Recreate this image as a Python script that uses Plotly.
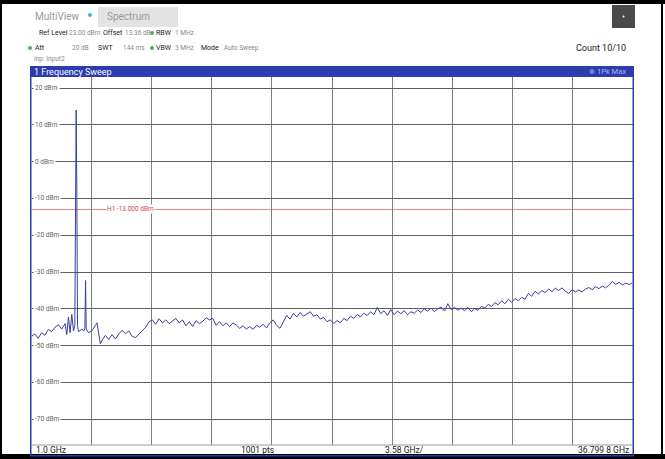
import plotly.graph_objects as go

# sweep data (GHz, dBm)
freq_ghz = [
    1.0, 1.2, 1.4, 1.6, 1.8, 2.0, 2.2, 2.4, 2.6, 2.8, 3.0, 3.1, 3.2, 3.3, 3.4, 3.5,
    3.58, 3.62, 3.66, 3.70, 3.74, 3.8, 4.0, 4.1, 4.18, 4.22, 4.26, 4.4, 4.6, 4.8, 4.9,
    5.0, 5.1, 5.2, 5.4, 5.6, 5.8, 6.0, 6.2, 6.4, 6.6, 6.8, 7.0, 7.2, 7.4, 7.6, 7.8,
    8.0, 8.2, 8.4, 8.6, 8.8, 9.0, 9.2, 9.4, 9.6, 9.8, 10.0, 10.2, 10.4, 10.6, 10.8,
    11.0, 11.2, 11.4, 11.6, 11.8, 12.0, 12.2, 12.4, 12.6, 12.8, 13.0, 13.2, 13.4,
    13.6, 13.8, 14.0, 14.2, 14.4, 14.6, 14.8, 15.0, 15.2, 15.4, 15.6, 15.8, 16.0,
    16.2, 16.4, 16.6, 16.8, 17.0, 17.2, 17.4, 17.6, 17.8, 18.0, 18.2, 18.4, 18.6,
    18.8, 19.0, 19.2, 19.4, 19.6, 19.8, 20.0, 20.2, 20.4, 20.6, 20.8, 21.0, 21.2,
    21.4, 21.6, 21.8, 22.0, 22.2, 22.4, 22.6, 22.8, 23.0, 23.2, 23.4, 23.6, 23.8,
    24.0, 24.2, 24.4, 24.6, 24.8, 25.0, 25.2, 25.4, 25.6, 25.8, 26.0, 26.2, 26.4,
    26.6, 26.8, 27.0, 27.2, 27.4, 27.6, 27.8, 28.0, 28.2, 28.4, 28.6, 28.8, 29.0,
    29.2, 29.4, 29.6, 29.8, 30.0, 30.2, 30.4, 30.6, 30.8, 31.0, 31.2, 31.4, 31.6,
    31.8, 32.0, 32.2, 32.4, 32.6, 32.8, 33.0, 33.2, 33.4, 33.6, 33.8, 34.0, 34.2,
    34.4, 34.6, 34.8, 35.0, 35.2, 35.4, 35.6, 35.8, 36.0, 36.2, 36.4, 36.6, 36.7998,
]
level_dbm = [
    -47.5, -46.8, -48.0, -46.5, -47.2, -45.6, -46.2, -45.0, -44.3, -45.5, -44.0, -47.0, -42.2, -46.5, -41.5, -46.0,
    -44.5, -8.0, 14.0, -8.0, -44.5, -46.2, -45.5, -46.0, -45.5, -32.3, -45.5, -46.5, -46.0, -44.5, -43.8,
    -46.5, -49.5, -48.5, -47.2, -48.3, -47.0, -48.2, -46.8, -45.8, -46.8, -46.0, -47.5, -47.8, -46.8, -46.0, -45.0,
    -43.5, -43.0, -44.2, -42.7, -43.8, -43.0, -44.0, -43.2, -42.6, -43.8, -43.0, -44.6, -43.5, -44.8, -43.2,
    -44.0, -43.4, -42.4, -43.0, -42.6, -44.5, -43.5, -44.6, -43.8, -44.8, -43.8, -44.4, -45.3,
    -44.6, -45.5, -44.8, -45.6, -44.5, -45.0, -44.2, -45.2, -43.8, -43.0, -44.5, -45.3, -43.6,
    -41.8, -42.8, -41.2, -42.2, -41.0, -42.0, -41.4, -40.8, -42.0, -41.6, -42.8, -42.3, -43.5,
    -43.0, -44.0, -43.2, -43.8, -42.6, -43.2, -42.0, -42.6, -41.5, -42.2, -41.2, -41.8, -40.8,
    -41.6, -39.6, -41.3, -40.5, -41.8, -40.2, -41.6, -40.6, -41.3, -40.5, -41.6, -40.8, -41.2,
    -40.3, -41.0, -40.0, -40.6, -39.8, -40.8, -40.0, -39.5, -40.6, -38.6, -40.2, -39.6, -40.4,
    -39.8, -40.5, -39.6, -40.8, -39.9, -40.4, -39.3, -39.8, -38.8, -39.4, -38.3, -38.9, -37.8,
    -38.6, -37.4, -38.2, -37.2, -37.8, -36.9, -37.4, -35.8, -36.6, -35.2, -36.0, -35.0, -35.6,
    -34.6, -35.3, -34.4, -35.0, -34.3, -35.2, -35.8, -34.8, -35.4, -34.9, -35.4, -34.6, -34.2,
    -34.8, -34.0, -34.5, -33.8, -34.3, -33.6, -32.6, -33.4, -32.8, -33.5, -33.0, -33.4, -32.9,
]

y_ticks = [20, 10, 0, -10, -20, -30, -40, -50, -60, -70]
y_labels = ["20 dBm", "10 dBm", "0 dBm", "-10 dBm", "-20 dBm", "-30 dBm",
            "-40 dBm", "-50 dBm", "-60 dBm", "-70 dBm"]
h1_level = -13.0

W, H = 665, 459
BLUE = "#2c3cae"
GRAY = "#8a8a8a"
DARK = "#222222"
FONT = "Roboto"


def px(x):
    return x / W


def py(y):
    return 1 - y / H


fig = go.Figure()
fig.add_trace(go.Scatter(
    x=freq_ghz, y=level_dbm, mode="lines",
    line=dict(color="#3a3f9e", width=1), hoverinfo="skip"
))

shapes = []
annots = []


def text(x, y, s, size=8, color=DARK, anchor="left"):
    annots.append(dict(
        x=px(x), y=py(y), xref="paper", yref="paper", text=s,
        showarrow=False, xanchor=anchor, yanchor="middle",
        font=dict(family=FONT, size=size, color=color), borderpad=0
    ))


def rect(x0, y0, x1, y1, fill, line=None, width=0):
    shapes.append(dict(
        type="rect", xref="paper", yref="paper",
        x0=px(x0), x1=px(x1), y0=py(y1), y1=py(y0),
        fillcolor=fill, line=dict(color=line or fill, width=width), layer="above"
    ))


def dot(x, y, r, color):
    shapes.append(dict(
        type="circle", xref="paper", yref="paper",
        x0=px(x - r), x1=px(x + r), y0=py(y + r), y1=py(y - r),
        fillcolor=color, line=dict(color=color, width=0), layer="above"
    ))


# outer black frame
rect(0, 0, 665, 4, "#000000")
rect(0, 0, 2, 459, "#000000")
rect(0, 454, 665, 459, "#000000")
rect(661, 0, 663, 459, "#000000")

# header
text(34, 16, "MultiView", 10, "#9a9a9a")
dot(90, 15, 2, "#39b6e6")
rect(98, 7, 178, 27, "#e3e3e3")
text(106, 16, "Spectrum", 10, "#9a9a9a")
rect(612, 5, 635, 28, "#4a4a4a")
dot(623.5, 16.5, 1, "#ffffff")

text(38, 33, "Ref Level", 7)
text(68, 33, "23.00 dBm", 6.5, GRAY)
text(102, 33, "Offset", 7)
text(124, 33, "13.36 dB", 6.5, GRAY)
dot(152, 33, 2, "#4caf50")
text(155, 33, "RBW", 7)
text(174, 33, "1 MHz", 6.5, GRAY)

dot(30, 48, 2, "#4caf50")
text(34, 48, "Att", 7)
text(71, 48, "20 dB", 6.5, GRAY)
text(97, 48, "SWT", 7)
text(122, 48, "144 ms", 6.5, GRAY)
dot(152, 48, 2, "#4caf50")
text(155, 48, "VBW", 7)
text(174, 48, "3 MHz", 6.5, GRAY)
text(200, 48, "Mode", 7)
text(223, 48, "Auto Sweep", 6.5, GRAY)
text(627, 48, "Count 10/10", 9, DARK, anchor="right")
text(33, 59, "Inp: Input2", 6.5, GRAY)

# blue title bar and frame
rect(30, 66, 634, 77, BLUE)
text(33, 71.5, "1 Frequency Sweep", 9, "#ffffff")
dot(592, 71.5, 2.5, "#6f7fd0")
text(627, 71.5, "1Pk Max", 7.5, "#a8b4ee", anchor="right")
rect(30, 66, 31.5, 456, BLUE)
rect(632.5, 66, 634, 456, BLUE)
rect(30, 455, 634, 456.5, BLUE)
shapes.append(dict(type="line", xref="paper", yref="paper",
                   x0=px(31.5), x1=px(632.5), y0=py(445), y1=py(445),
                   line=dict(color="#9a9a9a", width=1), layer="above"))

# bottom bar labels
text(35, 450, "1.0 GHz", 8.5, DARK)
text(257, 450, "1001 pts", 8.5, DARK, anchor="center")
text(404, 450, "3.58 GHz/", 8.5, DARK, anchor="center")
text(630, 450, "36.799 8 GHz", 8.5, DARK, anchor="right")

# y labels inside plot
for v, lab in zip(y_ticks, y_labels):
    annots.append(dict(
        x=px(33), y=v, xref="paper", yref="y", text=lab, showarrow=False,
        xanchor="left", yanchor="middle",
        font=dict(family=FONT, size=6.5, color="#666666"),
        bgcolor="#ffffff", borderpad=1
    ))

# H1 display line
shapes.append(dict(type="line", xref="paper", yref="y",
                   x0=px(31.5), x1=px(632.5), y0=h1_level, y1=h1_level,
                   line=dict(color="#e08a8a", width=1), layer="below"))
annots.append(dict(
    x=px(106), y=h1_level, xref="paper", yref="y", text="H1 -13.000 dBm",
    showarrow=False, xanchor="left", yanchor="middle",
    font=dict(family=FONT, size=6.5, color="#c84a4a"),
    bgcolor="#ffffff", borderpad=0
))

fig.update_layout(
    width=W, height=H, autosize=False,
    margin=dict(l=0, r=0, t=0, b=0),
    paper_bgcolor="#ffffff", plot_bgcolor="#ffffff",
    showlegend=False,
    shapes=shapes, annotations=annots,
    xaxis=dict(
        domain=[px(31.5), px(632.5)], range=[1.0, 36.7998],
        tick0=1.0, dtick=3.57998, showticklabels=False, ticks="",
        showgrid=True, gridcolor="#808080", gridwidth=1, zeroline=False,
        showline=False, fixedrange=True
    ),
    yaxis=dict(
        domain=[py(445), py(77)], range=[-77, 23],
        tick0=0, dtick=10, showticklabels=False, ticks="",
        showgrid=True, gridcolor="#606060", gridwidth=1, zeroline=False,
        showline=False, fixedrange=True
    ),
)

# page body has an 8px default margin; drop it so the figure sits at 0,0
fig.write_html("out.html", config={"displayModeBar": False},
               post_script="document.body.style.margin='0';")
